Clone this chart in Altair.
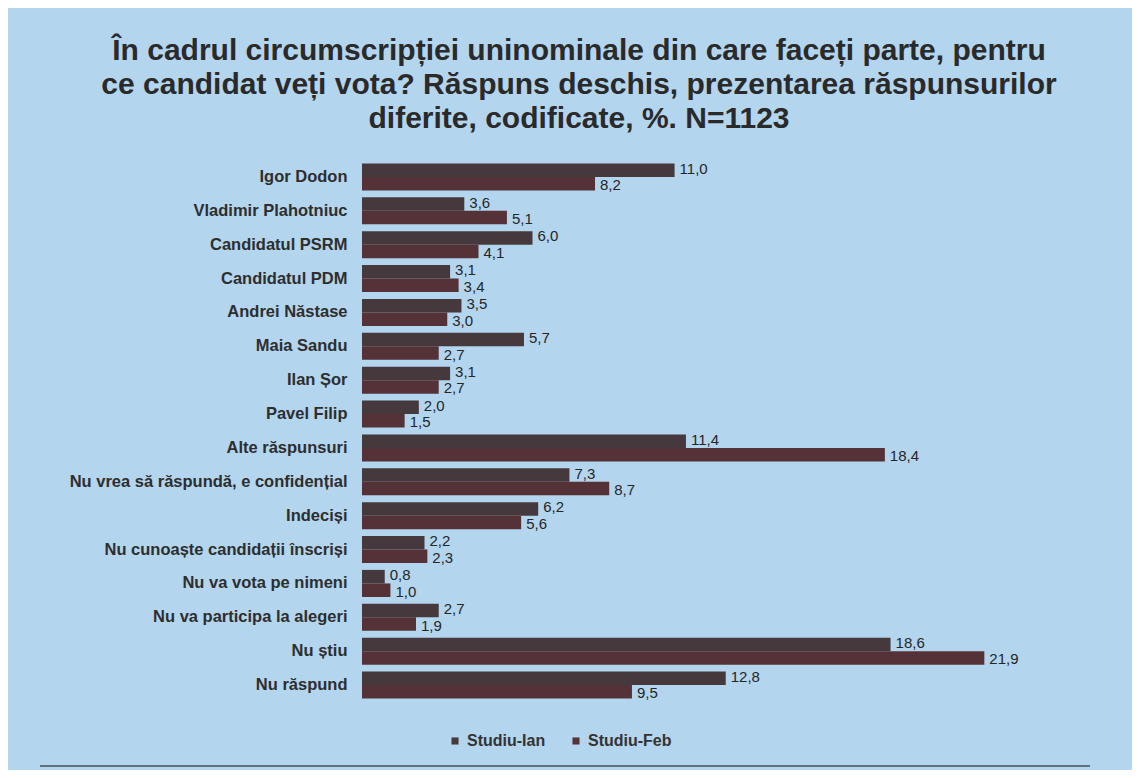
import altair as alt
import pandas as pd

categories = ["Igor Dodon", "Vladimir Plahotniuc", "Candidatul PSRM", "Candidatul PDM",
              "Andrei Năstase", "Maia Sandu", "Ilan Șor", "Pavel Filip",
              "Alte răspunsuri", "Nu vrea să răspundă, e confidențial", "Indeciși",
              "Nu cunoaște candidații înscriși", "Nu va vota pe nimeni",
              "Nu va participa la alegeri", "Nu știu", "Nu răspund"]
studiu_ian = [11.0, 3.6, 6.0, 3.1, 3.5, 5.7, 3.1, 2.0, 11.4, 7.3, 6.2, 2.2, 0.8, 2.7, 18.6, 12.8]
studiu_feb = [8.2, 5.1, 4.1, 3.4, 3.0, 2.7, 2.7, 1.5, 18.4, 8.7, 5.6, 2.3, 1.0, 1.9, 21.9, 9.5]
series = ["Studiu-Ian", "Studiu-Feb"]

rows = []
for c, a, b in zip(categories, studiu_ian, studiu_feb):
    rows.append({"cat": c, "series": series[0], "val": a})
    rows.append({"cat": c, "series": series[1], "val": b})
df = pd.DataFrame(rows)
df["label"] = df["val"].map(lambda v: f"{v:.1f}".replace(".", ","))

FONT = "Liberation Sans"

base = alt.Chart(df).encode(
    y=alt.Y("cat:N", sort=categories, title=None,
            scale=alt.Scale(paddingInner=0.2, paddingOuter=0.1),
            axis=alt.Axis(domain=False, ticks=False, labelPadding=15, labelFontSize=16.5,
                          labelFont=FONT, labelFontWeight="bold", labelColor="#2e2e2e",
                          labelLimit=400)),
    yOffset=alt.YOffset("series:N", sort=series),
)

bars = base.mark_bar().encode(
    x=alt.X("val:Q", scale=alt.Scale(domain=[0, 24]), axis=None),
    color=alt.Color("series:N", sort=series,
                    scale=alt.Scale(domain=series, range=["#45393d", "#553237"]),
                    legend=alt.Legend(title=None, orient="none", direction="horizontal",
                                      legendX=85, legendY=573, symbolType="square",
                                      symbolSize=50, labelFont=FONT, labelFontSize=16,
                                      labelFontWeight="bold", labelColor="#333333",
                                      columnPadding=22, symbolOffset=0)),
)

ian_labels = base.transform_filter(alt.datum.series == series[0]).mark_text(
    align="left", baseline="middle", dx=5, dy=-1.5, fontSize=15,
    font=FONT, color="#262626").encode(x=alt.X("val:Q"), text="label:N")

feb_labels = base.transform_filter(alt.datum.series == series[1]).mark_text(
    align="left", baseline="middle", dx=5, dy=1.5, fontSize=15,
    font=FONT, color="#262626").encode(x=alt.X("val:Q"), text="label:N")

line = alt.Chart(df).mark_rule(color="#5f6f80", strokeWidth=2).encode(
    x=alt.value(-322), x2=alt.value(728), y=alt.value(606)
)

chart = alt.layer(bars, ian_labels, feb_labels, line).properties(
    width=682,
    height=542,
    title=alt.TitleParams(
        text=["În cadrul circumscripției uninominale din care faceți parte, pentru",
              "ce candidat veți vota? Răspuns deschis, prezentarea răspunsurilor",
              "diferite, codificate, %. N=1123"],
        font=FONT, fontSize=30, fontWeight="bold", color="#2a2a2a",
        anchor="middle", frame="group", dx=-124, offset=26, lineHeight=34),
    autosize=alt.AutoSizeParams(type="none"),
    padding={"left": 354, "top": 152, "right": 88, "bottom": 68},
    background="#b3d5ee",
).configure_view(stroke=None)

chart.save("out.html", embed_options={"renderer": "svg", "actions": False})
